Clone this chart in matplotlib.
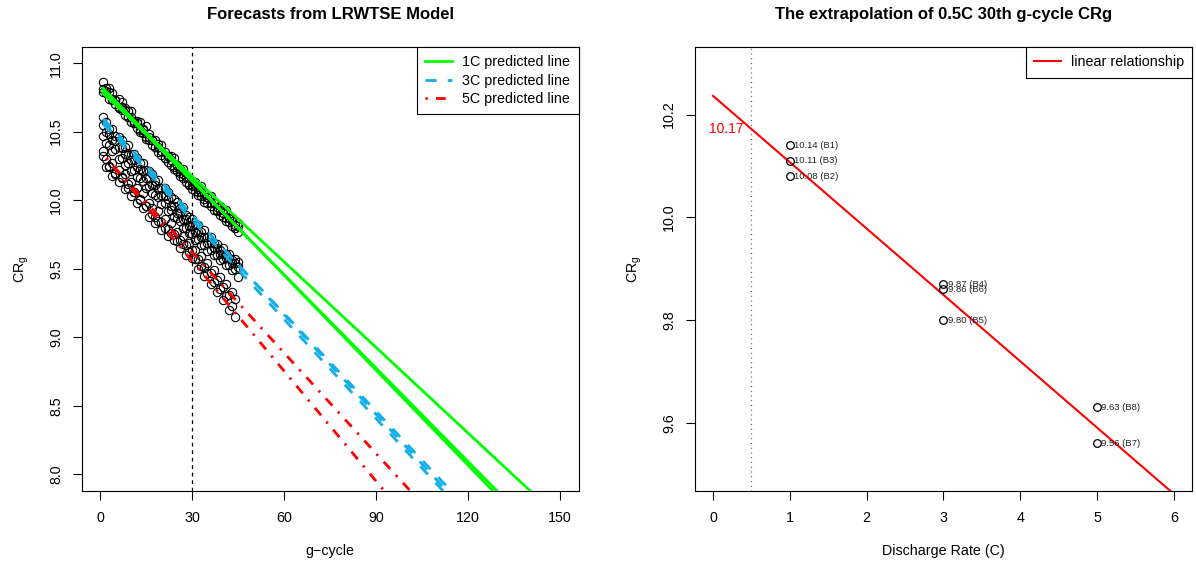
import matplotlib.pyplot as plt
import numpy as np

plt.rcParams['font.family'] = ['Liberation Sans', 'DejaVu Sans']
plt.rcParams['mathtext.fontset'] = 'custom'
plt.rcParams['mathtext.rm'] = 'Liberation Sans'
plt.rcParams['mathtext.it'] = 'Liberation Sans:italic'

# ---- left panel data: CRg per g-cycle for each battery ----
cycles_45 = np.arange(1, 46)
cycles_44 = np.arange(1, 45)

crg_b1 = [10.86, 10.82, 10.82, 10.78, 10.73, 10.74, 10.72, 10.67, 10.65, 10.65,
          10.58, 10.58, 10.57, 10.52, 10.54, 10.48, 10.44, 10.44, 10.41, 10.40,
          10.35, 10.32, 10.32, 10.31, 10.26, 10.23, 10.23, 10.17, 10.16, 10.14,
          10.13, 10.08, 10.10, 10.05, 10.02, 10.03, 9.99, 9.95, 9.96, 9.93,
          9.93, 9.87, 9.87, 9.82, 9.83]
crg_b3 = [10.81, 10.80, 10.79, 10.74, 10.73, 10.68, 10.68, 10.66, 10.61, 10.61,
          10.56, 10.56, 10.51, 10.51, 10.46, 10.46, 10.44, 10.39, 10.39, 10.36,
          10.31, 10.32, 10.29, 10.24, 10.25, 10.20, 10.19, 10.17, 10.12, 10.11,
          10.10, 10.06, 10.06, 10.01, 10.02, 9.98, 9.98, 9.93, 9.93, 9.91,
          9.87, 9.87, 9.85, 9.80, 9.81]
crg_b2 = [10.79, 10.78, 10.74, 10.73, 10.70, 10.67, 10.66, 10.62, 10.61, 10.57,
          10.56, 10.53, 10.50, 10.49, 10.45, 10.44, 10.40, 10.39, 10.35, 10.33,
          10.31, 10.28, 10.26, 10.23, 10.21, 10.18, 10.16, 10.13, 10.11, 10.08,
          10.07, 10.04, 10.03, 9.99, 9.98, 9.96, 9.93, 9.92, 9.89, 9.88,
          9.85, 9.84, 9.81, 9.80, 9.77]

crg_b4 = [10.61, 10.57, 10.52, 10.52, 10.47, 10.46, 10.44, 10.39, 10.40, 10.34,
          10.34, 10.31, 10.27, 10.27, 10.22, 10.21, 10.19, 10.14, 10.15, 10.09,
          10.09, 10.06, 10.02, 10.01, 9.99, 9.94, 9.95, 9.89, 9.88, 9.86,
          9.82, 9.82, 9.77, 9.78, 9.73, 9.73, 9.69, 9.68, 9.64, 9.65,
          9.61, 9.61, 9.56, 9.57, 9.55]
crg_b6 = [10.55, 10.50, 10.48, 10.44, 10.43, 10.39, 10.38, 10.34, 10.33, 10.29,
          10.29, 10.24, 10.23, 10.21, 10.16, 10.16, 10.11, 10.11, 10.08, 10.04,
          10.03, 10.01, 9.96, 9.96, 9.91, 9.91, 9.86, 9.86, 9.81, 9.81,
          9.77, 9.77, 9.73, 9.73, 9.69, 9.69, 9.65, 9.65, 9.61, 9.61,
          9.58, 9.58, 9.54, 9.54, 9.51]
crg_b5 = [10.47, 10.42, 10.40, 10.36, 10.37, 10.30, 10.31, 10.26, 10.27, 10.21,
          10.22, 10.17, 10.16, 10.14, 10.09, 10.10, 10.05, 10.04, 10.02, 9.97,
          9.98, 9.92, 9.93, 9.88, 9.87, 9.85, 9.80, 9.80, 9.76, 9.75,
          9.71, 9.72, 9.67, 9.67, 9.63, 9.64, 9.60, 9.60, 9.56, 9.57,
          9.53, 9.53, 9.49, 9.50, 9.44]

crg_b8 = [10.36, 10.30, 10.25, 10.27, 10.20, 10.22, 10.17, 10.19, 10.12, 10.13,
          10.06, 10.09, 10.01, 10.05, 9.96, 9.98, 9.94, 9.88, 9.92, 9.84,
          9.86, 9.79, 9.83, 9.75, 9.77, 9.71, 9.74, 9.67, 9.69, 9.64,
          9.64, 9.57, 9.59, 9.51, 9.54, 9.47, 9.49, 9.42, 9.44, 9.37,
          9.39, 9.31, 9.33, 9.28]
crg_b7 = [10.32, 10.24, 10.24, 10.18, 10.19, 10.13, 10.16, 10.08, 10.09, 10.03,
          10.06, 9.98, 10.00, 9.94, 9.96, 9.88, 9.90, 9.83, 9.85, 9.78,
          9.80, 9.74, 9.76, 9.71, 9.70, 9.65, 9.68, 9.60, 9.62, 9.58,
          9.57, 9.50, 9.52, 9.45, 9.47, 9.39, 9.40, 9.33, 9.35, 9.27,
          9.30, 9.20, 9.23, 9.15]

# forecast lines (intercept, slope) per battery
line_1c = [(10.80, -0.02083), (10.84, -0.02312), (10.82, -0.02273)]
line_3c = [(10.62, -0.02425), (10.60, -0.02378), (10.58, -0.02415)]
line_5c = [(10.36, -0.02678), (10.354, -0.02447)]

# ---- right panel data: CRg at 30th g-cycle ----
rate = [1, 1, 1, 3, 3, 3, 5, 5]
crg30 = [10.14, 10.11, 10.08, 9.87, 9.86, 9.80, 9.63, 9.56]
batt = ['B1', 'B3', 'B2', 'B4', 'B6', 'B5', 'B8', 'B7']

green = '#00FF00'
blue = '#12AEE8'
red = '#FF0000'
FS = 10.3

fig = plt.figure(figsize=(11.96, 5.69), dpi=100)
W, H = 1196, 569
ax1 = fig.add_axes([81.7 / W, 1 - 490.7 / H, 496.8 / W, 444 / H])
ax2 = fig.add_axes([694.6 / W, 1 - 490.7 / H, 497.7 / W, 444 / H])

# left panel
for y, x in [(crg_b1, cycles_45), (crg_b3, cycles_45), (crg_b2, cycles_45),
             (crg_b4, cycles_45), (crg_b6, cycles_45), (crg_b5, cycles_45),
             (crg_b8, cycles_44), (crg_b7, cycles_44)]:
    ax1.plot(x, y, 'o', ms=6, mfc='none', mec='black', mew=0.8, zorder=2)

xs = np.array([1, 155])
for i, (a, b) in enumerate(line_1c):
    ax1.plot(xs, a + b * xs, color=green, lw=2, zorder=3,
             label='1C predicted line' if i == 0 else None)
for i, (a, b) in enumerate(line_3c):
    ax1.plot(xs, a + b * xs, color=blue, lw=2, dashes=(4, 4), zorder=3,
             label='3C predicted line' if i == 0 else None)
xs5 = np.array([2, 155])
for i, (a, b) in enumerate(line_5c):
    ax1.plot(xs5, a + b * xs5, color=red, lw=2, dashes=(0.8, 3, 3.5, 3), zorder=3,
             label='5C predicted line' if i == 0 else None)

ax1.axvline(30, color='black', lw=0.9, dashes=(3, 3), zorder=1)
ax1.set_xlim(-6, 156)
ax1.set_ylim(7.88, 11.12)
ax1.set_xticks([0, 30, 60, 90, 120, 150])
ax1.set_yticks([8.0, 8.5, 9.0, 9.5, 10.0, 10.5, 11.0])
ax1.set_xlabel('g\u2212cycle', fontsize=FS, labelpad=14)
ax1.set_ylabel(r'CR$_\mathrm{g}$', fontsize=FS, labelpad=13)
ax1.set_title('Forecasts from LRWTSE Model', fontsize=12, fontweight='bold', pad=20)
leg = ax1.legend(loc='upper right', fontsize=FS, frameon=True, fancybox=False,
                 edgecolor='black', framealpha=1, borderaxespad=0,
                 handlelength=1.85, handletextpad=0.7, labelspacing=0.3,
                 borderpad=0.6)
leg.get_frame().set_linewidth(0.8)

# right panel
slope, intercept = np.polyfit(rate, crg30, 1)
xr = np.array([0, 6.3])
ax2.plot(xr, intercept + slope * xr, color=red, lw=1.5, label='linear relationship')
ax2.plot(rate, crg30, 'o', ms=5.5, mfc='none', mec='black', mew=0.9)
for x, y, b in zip(rate, crg30, batt):
    ax2.annotate(f'{y:.2f} ({b})', (x, y), xytext=(3, 0), textcoords='offset points',
                 fontsize=6.8, va='center', ha='left', color='#222222')
ax2.axvline(0.5, color='#555555', lw=0.9, dashes=(0.8, 3))
pred = intercept + slope * 0.5
ax2.annotate(f'{pred:.2f}', (0.5, pred), xytext=(-6, 0), textcoords='offset points',
             fontsize=10, color=red, ha='right', va='center')
ax2.set_xlim(-0.24, 6.24)
ax2.set_ylim(9.468, 10.332)
ax2.set_xticks(range(7))
ax2.set_yticks([9.6, 9.8, 10.0, 10.2])
ax2.set_xlabel('Discharge Rate (C)', fontsize=FS, labelpad=14)
ax2.set_ylabel(r'CR$_\mathrm{g}$', fontsize=FS, labelpad=13)
ax2.set_title('The extrapolation of 0.5C 30th g-cycle CRg', fontsize=12,
              fontweight='bold', pad=20)
leg2 = ax2.legend(loc='upper right', fontsize=FS, frameon=True, fancybox=False,
                  edgecolor='black', framealpha=1, borderaxespad=0,
                  handlelength=1.85, handletextpad=0.7, borderpad=0.6)
leg2.get_frame().set_linewidth(0.8)

for ax in (ax1, ax2):
    ax.tick_params(direction='out', length=6.3, width=0.8, labelsize=FS, pad=8)
    ax.tick_params(axis='y', labelrotation=90, pad=7)
    for lbl in ax.get_yticklabels():
        lbl.set_va('center')
    for s in ax.spines.values():
        s.set_linewidth(0.8)

fig.savefig('out.png', dpi=100)
